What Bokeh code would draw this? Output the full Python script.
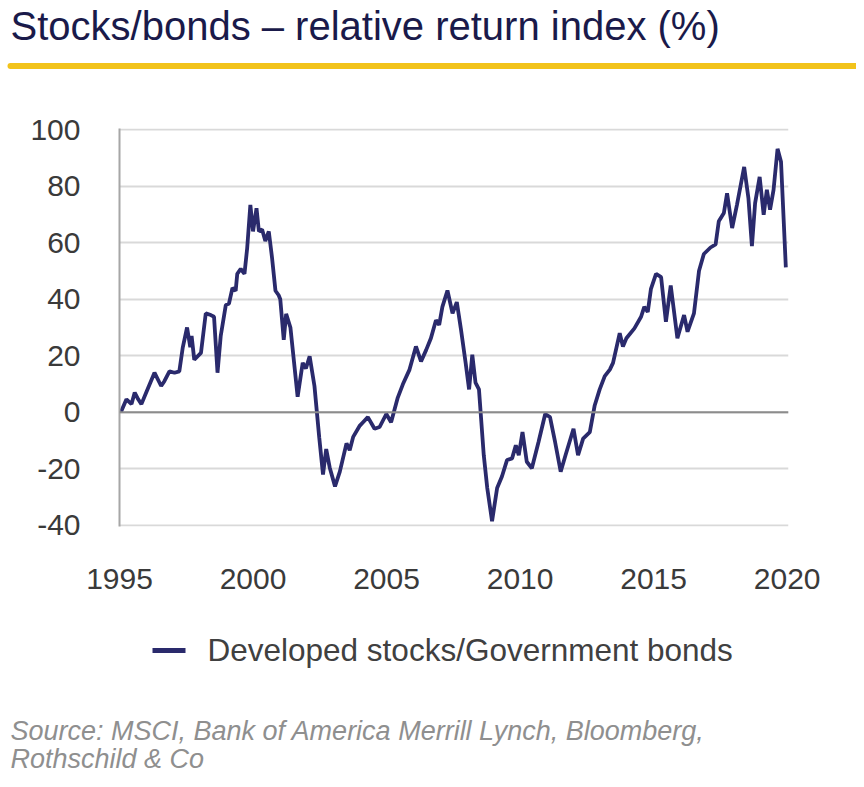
from bokeh.plotting import figure
from bokeh.layouts import column
from bokeh.models import Span, FixedTicker, Range1d, PrintfTickFormatter
from bokeh.core.properties import value
from bokeh.embed import file_html
from bokeh.resources import INLINE

# Decimal year and relative return index (%)
years = [
    1995.05, 1995.26, 1995.45, 1995.57, 1995.70, 1995.82, 1996.00, 1996.31, 1996.56, 1996.68,
    1996.87, 1997.06, 1997.24, 1997.37, 1997.53, 1997.65, 1997.70, 1997.80, 1998.05, 1998.23,
    1998.42, 1998.54, 1998.67, 1998.79, 1998.98, 1999.10, 1999.23, 1999.35, 1999.41, 1999.54,
    1999.68, 1999.78, 1999.90, 2000.00, 2000.13, 2000.22, 2000.34, 2000.46, 2000.59, 2000.71,
    2000.84, 2000.96, 2001.02, 2001.15, 2001.24, 2001.40, 2001.67, 2001.86, 2001.98, 2002.12,
    2002.30, 2002.48, 2002.62, 2002.74, 2002.87, 2003.07, 2003.25, 2003.50, 2003.62, 2003.75,
    2004.00, 2004.12, 2004.30, 2004.55, 2004.74, 2004.99, 2005.17, 2005.42, 2005.61, 2005.86,
    2006.10, 2006.29, 2006.48, 2006.66, 2006.85, 2006.97, 2007.09, 2007.28, 2007.47, 2007.63,
    2007.78, 2007.96, 2008.09, 2008.21, 2008.33, 2008.46, 2008.64, 2008.77, 2008.95, 2009.14,
    2009.32, 2009.51, 2009.70, 2009.84, 2009.95, 2010.09, 2010.25, 2010.44, 2010.69, 2010.94,
    2011.12, 2011.31, 2011.52, 2011.70, 2012.00, 2012.17, 2012.36, 2012.61, 2012.79, 2012.98,
    2013.17, 2013.36, 2013.48, 2013.73, 2013.85, 2013.98, 2014.28, 2014.53, 2014.65, 2014.78,
    2014.90, 2015.09, 2015.28, 2015.46, 2015.64, 2015.89, 2016.14, 2016.27, 2016.51, 2016.70,
    2016.88, 2017.13, 2017.32, 2017.44, 2017.63, 2017.75, 2017.94, 2018.12, 2018.39, 2018.55,
    2018.68, 2018.80, 2018.97, 2019.12, 2019.24, 2019.36, 2019.49, 2019.64, 2019.77, 2019.95,
]
values = [
    0.0, 4.6, 2.9, 7.0, 4.6, 2.9, 7.0, 14.0, 9.3, 11.0,
    14.5, 14.0, 14.5, 23.0, 30.0, 23.0, 27.0, 18.6, 21.0, 35.0,
    34.4, 33.8, 14.0, 27.0, 37.9, 38.5, 44.0, 43.0, 49.0, 50.7,
    49.0, 58.0, 73.4, 64.0, 72.2, 64.0, 64.7, 60.6, 64.0, 54.8,
    43.0, 41.4, 40.0, 25.6, 34.8, 30.0, 5.5, 17.5, 15.5, 19.8,
    9.3, -9.0, -22.0, -13.0, -19.5, -26.2, -21.0, -11.0, -13.4, -8.7,
    -4.7, -3.5, -1.7, -5.8, -5.2, -0.6, -3.5, 5.2, 9.9, 15.1,
    23.3, 18.0, 22.0, 26.2, 32.6, 30.9, 37.3, 43.1, 35.0, 39.0,
    29.7, 17.5, 8.1, 20.4, 10.5, 8.1, -15.2, -26.8, -38.5, -26.8,
    -22.7, -16.9, -16.3, -11.7, -15.2, -7.0, -17.5, -19.8, -10.5, -0.6,
    -1.7, -10.5, -21.0, -15.2, -5.8, -15.2, -9.3, -7.0, 2.3, 8.1,
    12.8, 15.1, 17.5, 28.0, 23.3, 26.2, 29.7, 33.8, 37.3, 35.5,
    43.7, 49.0, 47.8, 32.0, 44.9, 26.2, 34.4, 28.5, 35.0, 50.1,
    56.0, 58.3, 59.4, 67.6, 70.5, 77.5, 65.2, 73.4, 86.8, 75.7,
    58.8, 74.0, 83.3, 69.9, 78.7, 71.7, 78.7, 93.2, 88.6, 51.3,
]
x_ticks = [1995, 2000, 2005, 2010, 2015, 2020]
y_ticks = [-40, -20, 0, 20, 40, 60, 80, 100]
series_name = "Developed stocks/Government bonds"
title_text = "Stocks/bonds \u2013 relative return index (%)"
source_lines = ["Source: MSCI, Bank of America Merrill Lynch, Bloomberg,", "Rothschild & Co"]

NAVY = "#2a2a6c"
FONT = "Liberation Sans"
W = 856


def blank(height):
    f = figure(width=W, height=height, output_backend="svg", toolbar_location=None,
               x_range=Range1d(0, W), y_range=Range1d(height, 0),
               min_border=0, min_border_left=0, min_border_right=0,
               min_border_top=0, min_border_bottom=0)
    f.axis.visible = False
    f.grid.grid_line_color = None
    f.outline_line_color = None
    f.frame_align = False
    return f


# Header: title and yellow rule
head = blank(90)
head.text(x=[10], y=[25], text=[title_text], text_font=value(FONT), text_font_size="40px",
          text_color="#1a1a4a", text_baseline="alphabetic", text_align="left")
head.segment(x0=[10], y0=[65.5], x1=[858], y1=[65.5], line_color="#f2c31b", line_width=6,
             line_cap="round")

# Main chart
p = figure(width=W, height=515, output_backend="svg", toolbar_location=None,
           x_range=Range1d(1995, 2020.05), y_range=Range1d(-40.4, 100.4),
           min_border_left=119, min_border_right=68, min_border_top=38, min_border_bottom=79)
p.outline_line_color = None
p.frame_align = False

p.xaxis.ticker = FixedTicker(ticks=x_ticks)
p.yaxis.ticker = FixedTicker(ticks=y_ticks)
p.yaxis.formatter = PrintfTickFormatter(format="%d")
for ax in (p.xaxis, p.yaxis):
    ax.major_tick_line_color = None
    ax.minor_tick_line_color = None
    ax.major_tick_out = 0
    ax.major_tick_in = 0
    ax.minor_tick_out = 0
    ax.major_label_text_font = FONT
    ax.major_label_text_color = "#3a3a3a"
    ax.major_label_text_font_size = "30px"
p.xaxis.axis_line_color = None
p.xaxis.major_label_standoff = 42
p.yaxis.axis_line_color = "#a6a6a6"
p.yaxis.axis_line_width = 2
p.yaxis.major_label_standoff = 39

p.xgrid.grid_line_color = None
p.ygrid.ticker = FixedTicker(ticks=y_ticks)
p.ygrid.grid_line_color = "#d9d9d9"
p.ygrid.grid_line_width = 2

p.add_layout(Span(location=0, dimension="width", line_color="#8c8c8c", line_width=2))

p.line(years, values, line_color=NAVY, line_width=3.8)

# Footer: legend and source
foot = blank(179)
foot.segment(x0=[152], y0=[45], x1=[185], y1=[45], line_color=NAVY, line_width=5)
foot.text(x=[207], y=[44], text=[series_name], text_font=value(FONT), text_font_size="31.5px",
          text_color="#404040", text_baseline="alphabetic", text_align="left")
foot.text(x=[10, 10], y=[125, 153], text=source_lines, text_font=value(FONT),
          text_font_size="27px", text_font_style="italic", text_color="#8f8f8f",
          text_baseline="alphabetic", text_align="left")

layout = column(head, p, foot, spacing=0)
open("out.html", "w").write(file_html(layout, INLINE))
